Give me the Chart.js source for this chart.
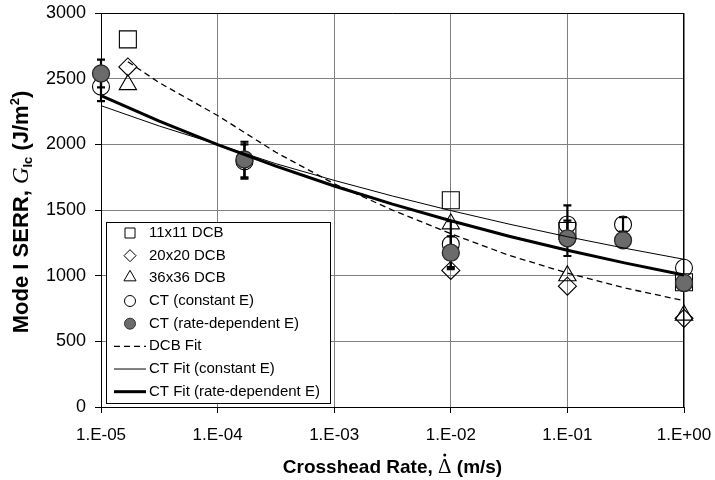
<!DOCTYPE html>
<html><head><meta charset="utf-8">
<script src="https://cdn.jsdelivr.net/npm/chart.js@4"></script>
<style>html,body{margin:0;padding:0;background:#fff}#wrap{width:715px;height:480px;position:relative}</style>
</head><body><div id="wrap"><canvas id="c"></canvas></div>
<script>
// ---- data ----
const dcbRates = [1.7e-5, 1e-2, 1e-1, 1];
const dcb11 = [2800, 1575, 1340, 950];
const dcb20 = [2590, 1040, 920, 675];
const dcb36 = [2455, 1395, 1000, 700];

const ctRates = [1e-5, 1.7e-4, 1e-2, 1e-1, 0.3, 1];
const ctConst = [2440, 1870, 1240, 1390, 1390, 1060];
const ctConstErr = [110, 130, 175, 145, 55, 0];
const ctRate = [2540, 1885, 1175, 1285, 1270, 945];
const ctRateErr = [105, 135, 125, 135, 0, 0];

const dcbFitRates = [1.7e-5, 3.16e-5, 1e-4, 3.16e-4, 1e-3, 3.16e-3, 1e-2, 3.16e-2, 1e-1, 3.16e-1, 1];
const dcbFit = [2630, 2470, 2220, 1940, 1700, 1500, 1320, 1155, 1020, 905, 810];
const ctFitRates = [1e-5, 3.16e-5, 1e-4, 3.16e-4, 1e-3, 3.16e-3, 1e-2, 3.16e-2, 1e-1, 3.16e-1, 1];
const ctConstFit = [2295, 2140, 2000, 1853, 1726, 1607, 1496, 1393, 1297, 1208, 1125];
const ctRateFit = [2371, 2177, 1998, 1834, 1683, 1545, 1418, 1301, 1194, 1096, 1006];

const xTickValues = [1e-5, 1e-4, 1e-3, 1e-2, 1e-1, 1];
const xTickLabels = ['1.E-05', '1.E-04', '1.E-03', '1.E-02', '1.E-01', '1.E+00'];
const yTickLabels = ['0', '500', '1000', '1500', '2000', '2500', '3000'];

const legendLabels = ['11x11 DCB', '20x20 DCB', '36x36 DCB', 'CT (constant E)', 'CT (rate-dependent E)',
  'DCB Fit', 'CT Fit (constant E)', 'CT Fit (rate-dependent E)'];

const pts = (xs, ys) => xs.map((v, i) => ({x: v, y: ys[i]}));
const FILL = '#6b6b6b';
const SANS = '"Liberation Sans", Arial, sans-serif';

function marker(ctx, style, x, y, r, fill, stroke) {
  ctx.beginPath();
  if (style === 'rect') { const s = r; ctx.rect(x - s, y - s, 2 * s, 2 * s); }
  else if (style === 'rectRot') { ctx.moveTo(x - r, y); ctx.lineTo(x, y - r); ctx.lineTo(x + r, y); ctx.lineTo(x, y + r); ctx.closePath(); }
  else if (style === 'triangle') { ctx.moveTo(x, y - r); ctx.lineTo(x + r * 0.866, y + r * 0.5); ctx.lineTo(x - r * 0.866, y + r * 0.5); ctx.closePath(); }
  else { ctx.arc(x, y, r, 0, Math.PI * 2); }
  if (fill) { ctx.fillStyle = fill; ctx.fill(); }
  ctx.strokeStyle = stroke; ctx.lineWidth = 1; ctx.stroke();
}

function drawSegments(ctx, segs, cx0, baseline) {
  let total = 0;
  segs.forEach(s => { ctx.font = s.f; s.w = ctx.measureText(s.t).width; total += s.w; });
  let cx = cx0 - total / 2;
  ctx.textBaseline = 'alphabetic'; ctx.textAlign = 'left'; ctx.fillStyle = '#000';
  segs.forEach(s => {
    ctx.font = s.f; ctx.fillText(s.t, cx, baseline + s.dy);
    if (s.dot) { ctx.beginPath(); ctx.arc(cx + s.w / 2, baseline - 18, 1.5, 0, Math.PI * 2); ctx.fill(); }
    cx += s.w;
  });
}

const custom = {
  id: 'custom',
  beforeDatasetsDraw(chart) {
    const {ctx, chartArea: a, scales: {x, y}} = chart;
    ctx.save();
    ctx.strokeStyle = '#000'; ctx.lineWidth = 1;
    ctx.beginPath();
    ctx.moveTo(a.left, Math.round(a.top) + 0.5); ctx.lineTo(a.right, Math.round(a.top) + 0.5);
    ctx.moveTo(Math.round(a.right) - 0.5, a.top); ctx.lineTo(Math.round(a.right) - 0.5, a.bottom);
    ctx.stroke();
    // error bars
    ctx.lineWidth = 2.2;
    [[ctConst, ctConstErr], [ctRate, ctRateErr]].forEach(([vals, errs]) => {
      ctRates.forEach((r, i) => {
        if (!errs[i]) return;
        const px = x.getPixelForValue(r);
        const y1 = y.getPixelForValue(vals[i] + errs[i]);
        const y2 = y.getPixelForValue(vals[i] - errs[i]);
        ctx.beginPath();
        ctx.moveTo(px, y1); ctx.lineTo(px, y2);
        ctx.moveTo(px - 4, y1); ctx.lineTo(px + 4, y1);
        ctx.moveTo(px - 4, y2); ctx.lineTo(px + 4, y2);
        ctx.stroke();
      });
    });
    ctx.restore();
  },
  afterDraw(chart) {
    const ctx = chart.ctx;
    const a = chart.chartArea;
    ctx.save();
    // legend box
    const L = 106, T = 222, R = 330, B = 403;
    ctx.fillStyle = '#fff'; ctx.fillRect(L, T, R - L, B - T);
    ctx.strokeStyle = '#000'; ctx.lineWidth = 1;
    ctx.strokeRect(L + 0.5, T + 0.5, R - L, B - T);
    ctx.font = '15px ' + SANS;
    ctx.textBaseline = 'middle'; ctx.textAlign = 'left';
    legendLabels.forEach((t, i) => {
      const yy = 233 + i * 22.67;
      ctx.fillStyle = '#000';
      ctx.fillText(t, 149, yy);
      if (i === 0) marker(ctx, 'rect', 130, yy, 5, null, '#000');
      else if (i === 1) marker(ctx, 'rectRot', 130, yy, 6, null, '#000');
      else if (i === 2) marker(ctx, 'triangle', 130, yy - 1, 7, null, '#000');
      else if (i === 3) marker(ctx, 'circle', 130, yy, 5.5, null, '#000');
      else if (i === 4) marker(ctx, 'circle', 130, yy, 5.5, FILL, '#333');
      else {
        ctx.beginPath();
        ctx.strokeStyle = '#000';
        ctx.lineWidth = i === 5 ? 1.3 : (i === 6 ? 1 : 3);
        ctx.setLineDash(i === 5 ? [6, 4] : []);
        ctx.moveTo(114, yy); ctx.lineTo(146, yy); ctx.stroke();
        ctx.setLineDash([]);
      }
    });
    // x-axis title
    drawSegments(ctx, [
      {t: 'Crosshead Rate, ', f: 'bold 19px ' + SANS, dy: 0},
      {t: '\u0394', f: '21px "Liberation Serif", serif', dy: 0, dot: true},
      {t: ' (m/s)', f: 'bold 19px ' + SANS, dy: 0}
    ], (a.left + a.right) / 2, 473);
    // y-axis title with script G, subscript and superscript
    ctx.translate(20, 212);
    ctx.rotate(-Math.PI / 2);
    drawSegments(ctx, [
      {t: 'Mode I SERR, ', f: 'bold 22px ' + SANS, dy: 0},
      {t: 'G', f: 'italic 23px "Liberation Serif", serif', dy: 0},
      {t: 'Ic', f: 'bold 13px ' + SANS, dy: 4},
      {t: ' (J/m', f: 'bold 22px ' + SANS, dy: 0},
      {t: '2', f: 'bold 13px ' + SANS, dy: -9},
      {t: ')', f: 'bold 22px ' + SANS, dy: 0}
    ], 0, 8);
    ctx.restore();
  }
};

new Chart(document.getElementById('c'), {
  type: 'scatter',
  data: {
    datasets: [
      {label: 'DCB Fit', data: pts(dcbFitRates, dcbFit), showLine: true, borderColor: '#000', borderWidth: 1.3,
        borderDash: [6, 4], pointRadius: 0, order: 0, clip: false},
      {label: 'CT Fit (constant E)', data: pts(ctFitRates, ctConstFit), showLine: true, borderColor: '#000', borderWidth: 1,
        pointRadius: 0, order: 0, clip: false},
      {label: 'CT Fit (rate-dependent E)', data: pts(ctFitRates, ctRateFit), showLine: true, borderColor: '#000', borderWidth: 3,
        pointRadius: 0, order: 0, clip: false},
      {label: 'CT (rate-dependent E)', data: pts(ctRates, ctRate), pointStyle: 'circle', pointRadius: 8.5,
        backgroundColor: FILL, borderColor: '#2a2a2a', borderWidth: 1.3, order: 1, clip: false},
      {label: 'CT (constant E)', data: pts(ctRates, ctConst), pointStyle: 'circle', pointRadius: 8.5,
        backgroundColor: 'rgba(0,0,0,0)', borderColor: '#000', borderWidth: 1.1, order: 2, clip: false},
      {label: '11x11 DCB', data: pts(dcbRates, dcb11), pointStyle: 'rect', pointRadius: 12,
        backgroundColor: 'rgba(0,0,0,0)', borderColor: '#000', borderWidth: 1.1, order: 2, clip: false},
      {label: '20x20 DCB', data: pts(dcbRates, dcb20), pointStyle: 'rectRot', pointRadius: 9,
        backgroundColor: 'rgba(0,0,0,0)', borderColor: '#000', borderWidth: 1.1, order: 2, clip: false},
      {label: '36x36 DCB', data: pts(dcbRates, dcb36), pointStyle: 'triangle', pointRadius: 10,
        backgroundColor: 'rgba(0,0,0,0)', borderColor: '#000', borderWidth: 1.1, order: 2, clip: false}
    ]
  },
  options: {
    responsive: true, maintainAspectRatio: false, animation: false, devicePixelRatio: 1,
    layout: {padding: {left: 0, right: 31, top: 12, bottom: 0}},
    plugins: {legend: {display: false}, tooltip: {enabled: false}},
    scales: {
      x: {
        type: 'logarithmic', min: 1e-5, max: 1,
        afterBuildTicks: s => { s.ticks = xTickValues.map(v => ({value: v})); },
        afterFit: s => { s.height = 73; s.paddingLeft = 0; s.paddingRight = 0; },
        ticks: {callback: (v, i) => xTickLabels[i], color: '#000', padding: 12, maxRotation: 0, autoSkip: false,
          font: {family: SANS, size: 17}},
        grid: {color: '#808080', borderDash: [2, 3], lineWidth: 1, tickLength: 6, tickColor: '#000', tickBorderDash: [], drawTicks: true},
        border: {display: true, color: '#000', width: 1},
        title: {display: false}
      },
      y: {
        type: 'linear', min: 0, max: 3000,
        afterBuildTicks: s => { s.ticks = yTickLabels.map(v => ({value: Number(v)})); },
        afterFit: s => { s.width = 101; s.paddingTop = 0; s.paddingBottom = 0; },
        ticks: {callback: (v, i) => yTickLabels[i], color: '#000', padding: 9,
          font: {family: SANS, size: 18}},
        grid: {color: '#808080', borderDash: [2, 3], lineWidth: 1, tickLength: 6, tickColor: '#000', tickBorderDash: []},
        border: {display: true, color: '#000', width: 1}
      }
    }
  },
  plugins: [custom]
});
</script></body></html>
